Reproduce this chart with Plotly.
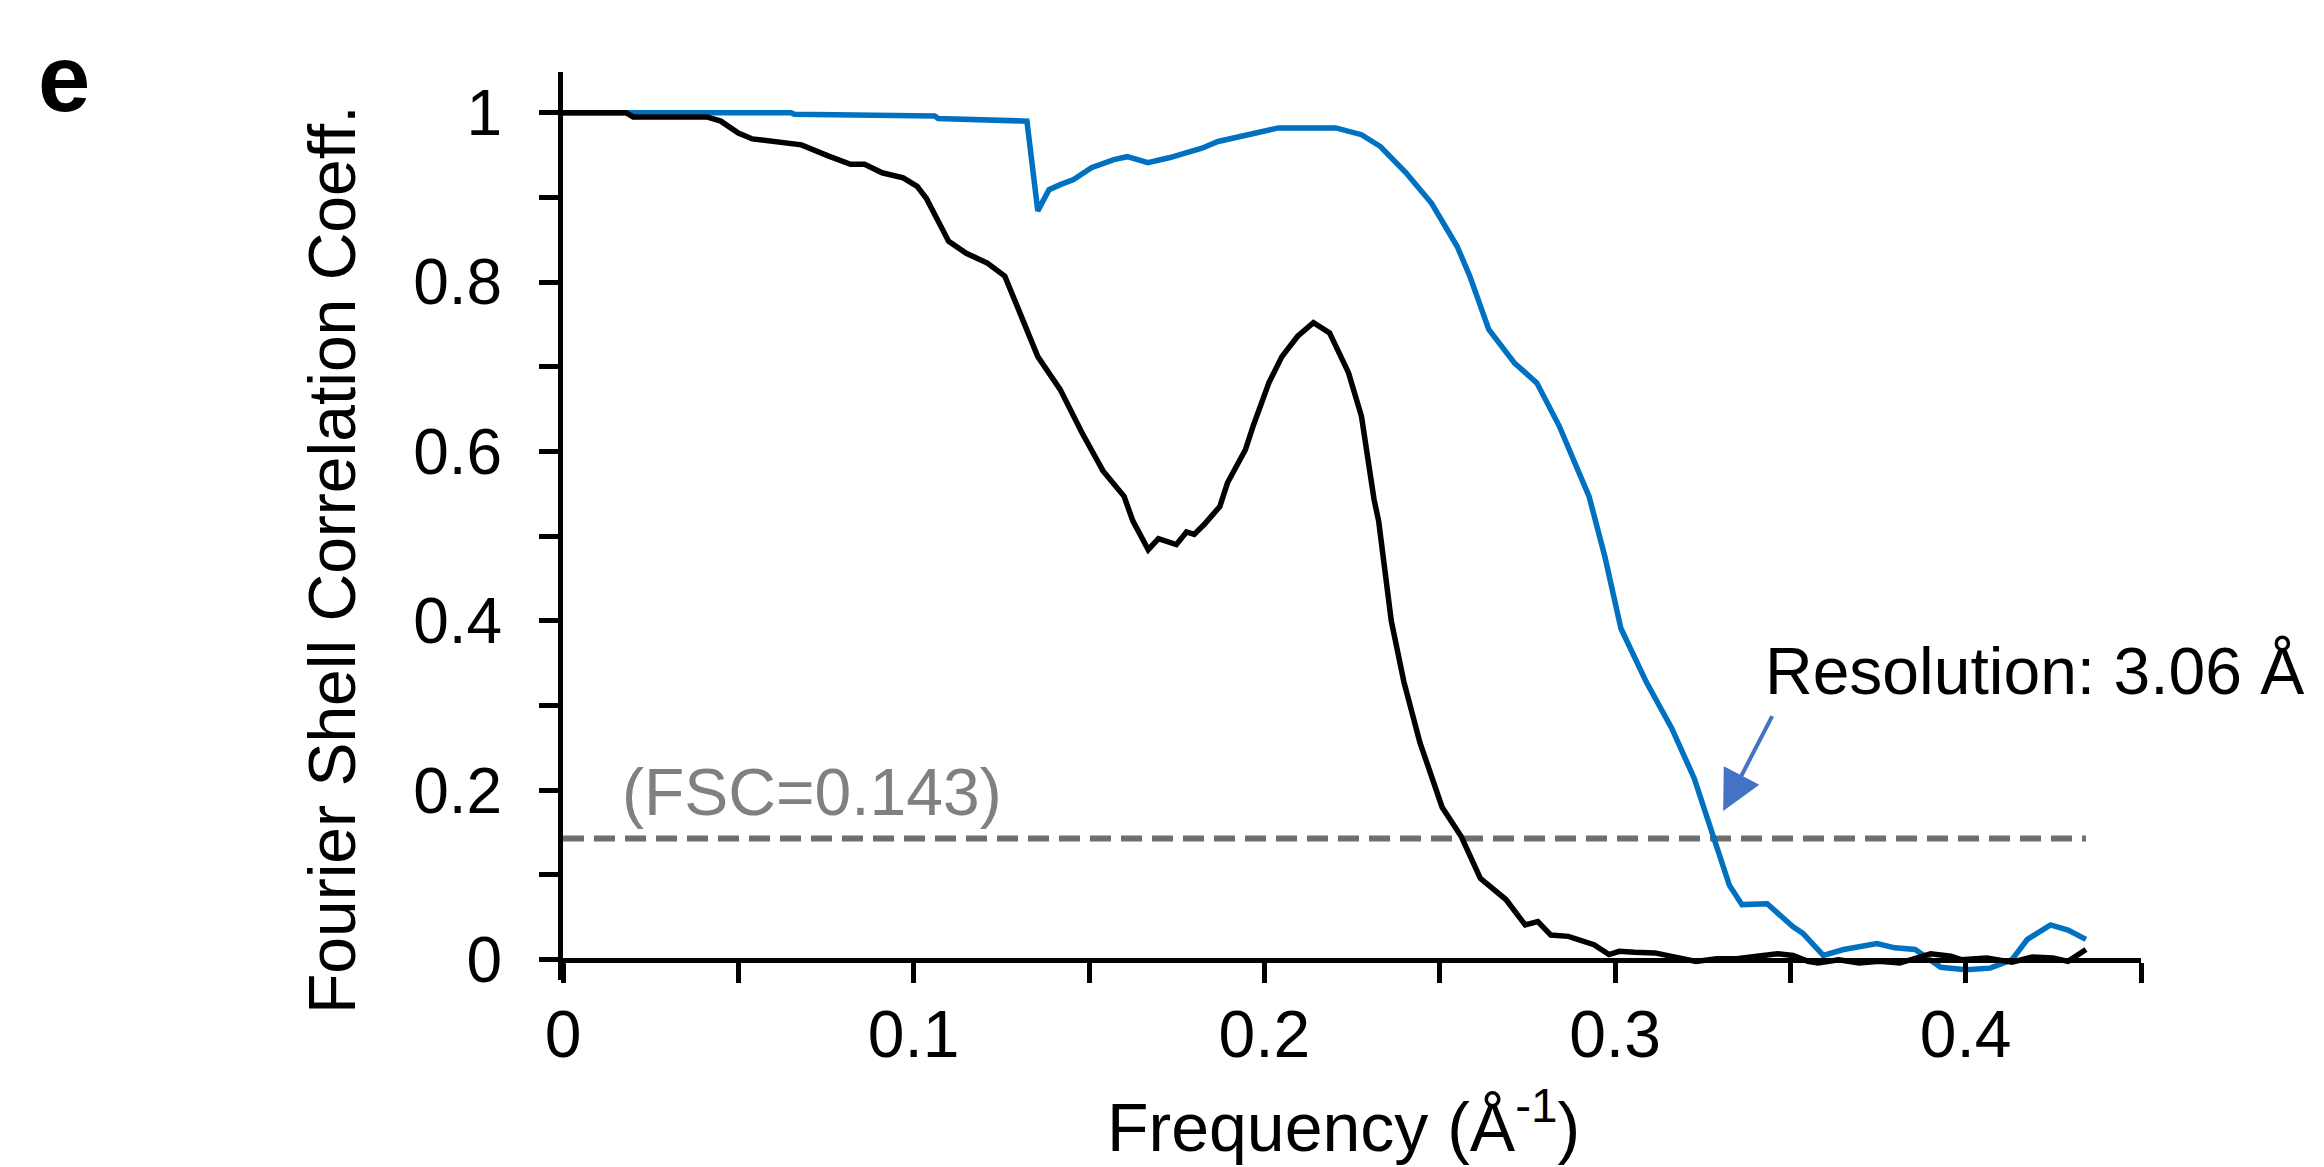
import plotly.graph_objects as go

# ---------------- data ----------------
freq_black = [0.0, 0.018, 0.020, 0.041, 0.045, 0.050, 0.054, 0.065, 0.068, 0.0756, 0.082, 0.086,
              0.091, 0.097, 0.101, 0.1036, 0.110, 0.115, 0.121, 0.126, 0.1354, 0.1418, 0.148,
              0.154, 0.160, 0.1625, 0.1669, 0.1698, 0.1727, 0.1749, 0.1778, 0.180, 0.1829,
              0.1873, 0.1895, 0.1946, 0.1968, 0.2013, 0.205, 0.2095, 0.214, 0.2186, 0.224,
              0.2277, 0.2313, 0.2326, 0.2362, 0.2398, 0.2444, 0.2507, 0.2562, 0.2616, 0.2689,
              0.2744, 0.278, 0.2817, 0.2867, 0.291, 0.294, 0.2983, 0.3012, 0.3056, 0.3114,
              0.3172, 0.3231, 0.329, 0.3347, 0.3405, 0.3463, 0.3508, 0.355, 0.3579, 0.3638,
              0.3696, 0.3754, 0.3812, 0.384, 0.390, 0.3958, 0.3987, 0.406, 0.4132, 0.419,
              0.4249, 0.4292, 0.4322, 0.4343]
fsc_black = [1.0, 1.0, 0.995, 0.995, 0.990, 0.976, 0.969, 0.964, 0.962, 0.949, 0.939, 0.939,
             0.929, 0.923, 0.913, 0.899, 0.848, 0.834, 0.8225, 0.807, 0.712, 0.673, 0.622,
             0.577, 0.547, 0.518, 0.484, 0.497, 0.493, 0.490, 0.505, 0.502, 0.514,
             0.535, 0.563, 0.602, 0.630, 0.681, 0.712, 0.736, 0.752, 0.740, 0.693,
             0.6415, 0.543, 0.518, 0.400, 0.328, 0.256, 0.180, 0.145, 0.096, 0.071,
             0.041, 0.045, 0.029, 0.0275, 0.0216, 0.0177, 0.006, 0.0098, 0.0087, 0.008,
             0.003, -0.002, 0.001, 0.001, 0.004, 0.007, 0.005, -0.002, -0.004, 0.0,
             -0.004, -0.002, -0.004, 0.0, 0.007, 0.004, 0.0, 0.002, -0.003, 0.003,
             0.002, -0.002, 0.006, 0.012]

freq_blue = [0.0, 0.065, 0.066, 0.106, 0.107, 0.125, 0.1323, 0.1354, 0.1386, 0.1418, 0.1456,
             0.1507, 0.1571, 0.1609, 0.1668, 0.1731, 0.1822, 0.1868, 0.195, 0.204, 0.2204,
             0.2277, 0.2331, 0.2404, 0.2477, 0.255, 0.2586, 0.264, 0.2713, 0.2777, 0.2841,
             0.2926, 0.2971, 0.3017, 0.3089, 0.3162, 0.3226, 0.3271, 0.3326, 0.3362, 0.3434,
             0.3507, 0.3536, 0.3594, 0.3652, 0.3747, 0.3798, 0.3856, 0.3929, 0.400, 0.407,
             0.4132, 0.4176, 0.4242, 0.4292, 0.4343]
fsc_blue = [1.0, 1.0, 0.998, 0.996, 0.993, 0.992, 0.990, 0.884, 0.909, 0.915, 0.921,
            0.935, 0.9445, 0.948, 0.941, 0.947, 0.958, 0.966, 0.974, 0.982, 0.982,
            0.974, 0.960, 0.929, 0.893, 0.842, 0.807, 0.744, 0.7045, 0.681, 0.630,
            0.547, 0.476, 0.391, 0.328, 0.273, 0.214, 0.155, 0.088, 0.065, 0.066,
            0.039, 0.031, 0.005, 0.012, 0.019, 0.014, 0.012, -0.009, -0.012, -0.010,
            0.0, 0.024, 0.041, 0.035, 0.024]

fsc_threshold = 0.143
resolution_A = 3.06

y_ticks = [0, 0.2, 0.4, 0.6, 0.8, 1]
x_ticks = [0, 0.1, 0.2, 0.3, 0.4]

# ---------------- layout constants (pixels) ----------------
W, H = 2324, 1167
L, R, T, B = 563, 2141, 72, 980   # plot area pixel bounds
FONT = "Liberation Sans, Arial, sans-serif"
YR = [-0.024, 1.048]


def px_x(p):
    return (p - L) / (R - L)


def px_y(p):
    return (B - p) / (B - T)


fig = go.Figure()

# threshold dashed line
fig.add_trace(go.Scatter(
    x=[0, freq_blue[-1]], y=[fsc_threshold, fsc_threshold], mode="lines",
    line=dict(color="#6e6e6e", width=6, dash="21px,10px"), hoverinfo="skip"))

fig.add_trace(go.Scatter(x=freq_blue, y=fsc_blue, mode="lines",
                         line=dict(color="#0070C0", width=5.5), name="blue"))
fig.add_trace(go.Scatter(x=freq_black, y=fsc_black, mode="lines",
                         line=dict(color="black", width=5.5), name="black"))

axis_common = dict(
    showgrid=False, zeroline=False, showline=True, linewidth=5, linecolor="black",
    ticks="outside", tickwidth=5, tickcolor="black",
)

fig.update_layout(
    width=W, height=H, autosize=False,
    margin=dict(l=L, r=W - R, t=T, b=H - B, pad=0),
    paper_bgcolor="white", plot_bgcolor="white",
    showlegend=False,
    xaxis=dict(range=[0, 0.45], tickmode="array", tickvals=x_ticks,
               ticktext=[("%g" % v) for v in x_ticks], ticklen=20,
               anchor="free", position=(0 - YR[0]) / (YR[1] - YR[0]),
               ticklabelstandoff=-5,
               tickfont=dict(family=FONT, size=66, color="black"),
               minor=dict(dtick=0.05, tick0=0, ticks="outside", ticklen=20,
                          tickwidth=5, tickcolor="black", showgrid=False),
               **axis_common),
    yaxis=dict(range=YR, tickmode="array", tickvals=y_ticks,
               ticktext=[("%g" % v) for v in y_ticks], ticklen=19,
               ticklabelstandoff=24,
               tickfont=dict(family=FONT, size=64, color="black"),
               minor=dict(dtick=0.1, tick0=0, ticks="outside", ticklen=19,
                          tickwidth=5, tickcolor="black", showgrid=False),
               **axis_common),
)

annotations = [
    dict(text="<b>e</b>", x=px_x(64), y=px_y(78), xref="paper", yref="paper",
         xanchor="center", yanchor="middle", showarrow=False,
         font=dict(family=FONT, size=94, color="black")),
    dict(text="Fourier Shell Correlation Coeff.", x=px_x(332), y=px_y(560),
         xref="paper", yref="paper", xanchor="center", yanchor="middle",
         textangle=-90, showarrow=False,
         font=dict(family=FONT, size=66, color="black")),
    dict(text="Frequency (Å<sup>-1</sup>)", x=px_x(1343), y=px_y(1122),
         xref="paper", yref="paper", xanchor="center", yanchor="middle",
         showarrow=False, font=dict(family=FONT, size=68, color="black")),
    dict(text="Resolution: %.2f Å" % resolution_A, x=px_x(1763), y=px_y(671),
         xref="paper", yref="paper", xanchor="left", yanchor="middle",
         showarrow=False, font=dict(family=FONT, size=66, color="black")),
    dict(text="(FSC=%.3f)" % fsc_threshold, x=px_x(620), y=px_y(792),
         xref="paper", yref="paper", xanchor="left", yanchor="middle",
         showarrow=False, font=dict(family=FONT, size=66, color="#808080")),
    dict(text="", x=1 / resolution_A, y=fsc_threshold, xref="x", yref="y",
         showarrow=True, ax=64, ay=-124, axref="pixel", ayref="pixel",
         arrowcolor="#4472C4", arrowwidth=4, arrowhead=2, arrowsize=2,
         standoff=31),
]
fig.update_layout(annotations=annotations)

fig.write_html("out.html",
               config={"displayModeBar": False},
               post_script="document.body.style.margin='0';document.body.style.overflow='hidden';")
